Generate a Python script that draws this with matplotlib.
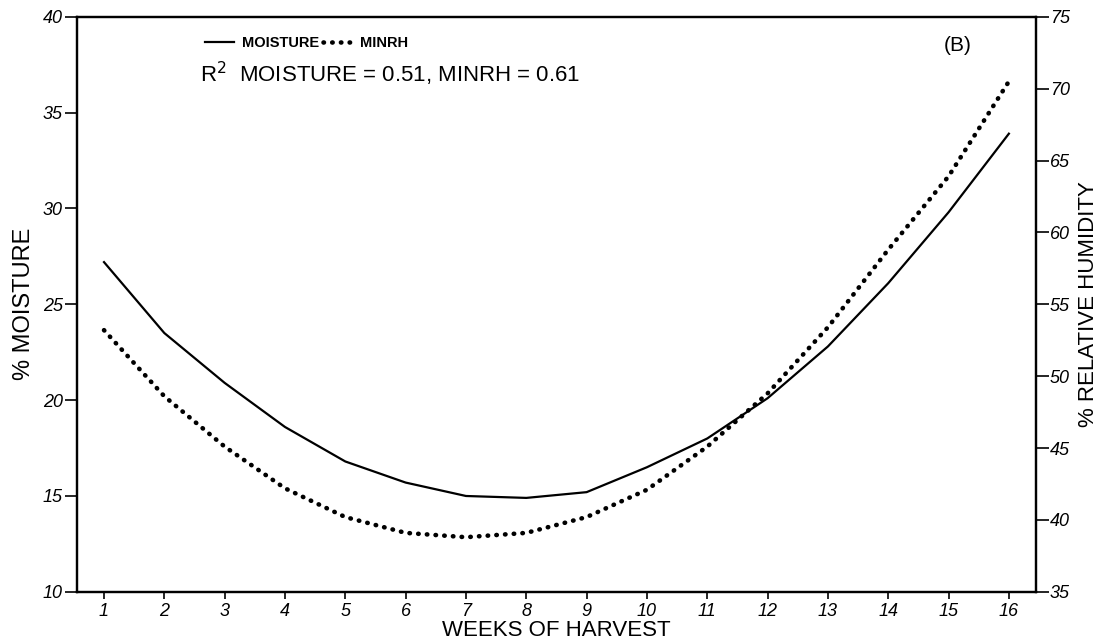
import matplotlib.pyplot as plt

plt.rcParams['font.family'] = ['Liberation Sans', 'DejaVu Sans']

# weekly values of the two fitted curves
weeks = list(range(1, 17))
moisture = [27.2, 23.5, 20.9, 18.6, 16.8, 15.7, 15.0, 14.9,
            15.2, 16.5, 18.0, 20.1, 22.8, 26.1, 29.8, 33.9]
minrh = [53.2, 48.6, 45.1, 42.2, 40.2, 39.1, 38.8, 39.1,
         40.2, 42.1, 45.1, 48.8, 53.4, 58.8, 63.9, 70.5]

left_ticks = [10, 15, 20, 25, 30, 35, 40]
right_ticks = [35, 40, 45, 50, 55, 60, 65, 70, 75]

fig = plt.figure(figsize=(11.14, 6.44), dpi=100)
ax = fig.add_axes([0.069, 0.081, 0.861, 0.893])
ax2 = ax.twinx()

l1, = ax.plot(weeks, moisture, color='black', lw=1.6, label='MOISTURE')
l2, = ax2.plot(weeks, minrh, color='black', lw=3.3,
               linestyle=(0, (0.1, 1.8)), dash_capstyle='round', label='MINRH')

ax.set_xlim(0.55, 16.45)
ax.set_ylim(10, 40)
ax2.set_ylim(35, 75)

ax.set_xticks(weeks)
ax.set_xticklabels([str(w) for w in weeks], fontsize=13, style='italic')
ax.set_yticks(left_ticks)
ax.set_yticklabels([str(v) for v in left_ticks], fontsize=13, style='italic')
ax2.set_yticks(right_ticks)
ax2.set_yticklabels([str(v) for v in right_ticks], fontsize=13, style='italic')

ax.tick_params(axis='x', direction='out', length=5, width=1.2, pad=3)
ax.tick_params(axis='y', direction='out', length=9, width=1.2, pad=1)
ax2.tick_params(axis='y', direction='out', length=9, width=1.2, pad=1)

for a in (ax, ax2):
    for s in a.spines.values():
        s.set_linewidth(1.6)
        s.set_color('black')

ax.set_xlabel('WEEKS OF HARVEST', fontsize=16, labelpad=0)
ax.set_ylabel('% MOISTURE', fontsize=17, labelpad=6)
ax2.set_ylabel('% RELATIVE HUMIDITY', fontsize=16, labelpad=6)

ax.legend([l1, l2], ['MOISTURE', 'MINRH'], loc='upper left',
          bbox_to_anchor=(0.12, 0.99), ncol=2, frameon=False,
          handlelength=2.0, handletextpad=0.5, columnspacing=0.3,
          prop={'weight': 'bold', 'size': 10.5})

ax.text(0.128, 0.9, r'R$^{2}$  MOISTURE = 0.51, MINRH = 0.61',
        transform=ax.transAxes, fontsize=16, va='center')
ax.text(0.904, 0.95, '(B)', transform=ax.transAxes, fontsize=15, va='center')

fig.savefig('out.png', dpi=100)
